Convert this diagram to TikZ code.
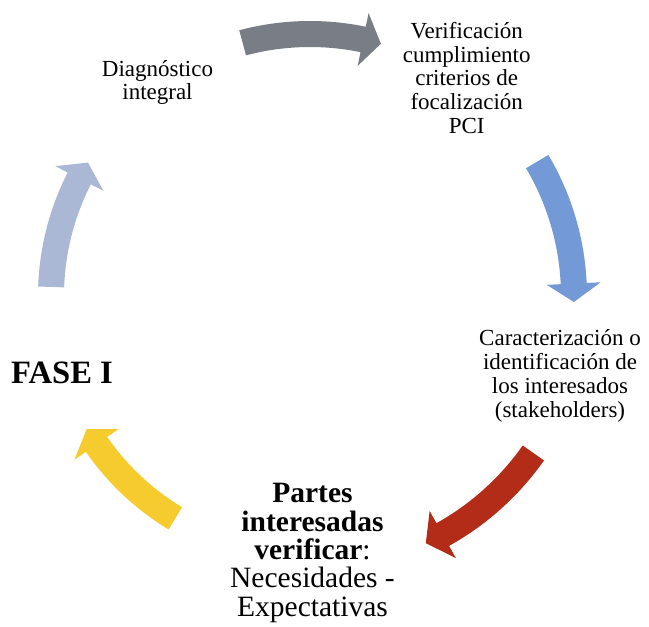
\documentclass[tikz,border=0pt]{standalone}
\usepackage{fontspec}
\setmainfont{Liberation Serif}
\usepackage{tikz}

\definecolor{arrgray}{RGB}{120,125,134}
\definecolor{arrblue}{RGB}{115,153,214}
\definecolor{arrred}{RGB}{178,44,24}
\definecolor{arryellow}{RGB}{245,203,46}
\definecolor{arrpale}{RGB}{171,184,213}

% #1 colour, #2 tail angle, #3 tip angle, #4 radius
\newcommand{\cyclearrow}[4]{%
  \fill[#1] ({#2}:{#4+13}) arc[start angle={#2}, end angle={#3+4}, radius={#4+13}]
    -- ({#3+4}:{#4+27}) -- ({#3}:{#4}) -- ({#3+4}:{#4-27})
    -- ({#3+4}:{#4-13}) arc[start angle={#3+4}, end angle={#2}, radius={#4-13}] -- cycle;}

\begin{document}
\begin{tikzpicture}[x=1pt, y=1pt,
    smalltxt/.style={align=center, font=\fontsize{23}{23.7}\selectfont, inner sep=0pt},
    bigtxt/.style={align=center, font=\fontsize{29.5}{28.3}\selectfont, inner sep=0pt}]
      \useasboundingbox (0,0) rectangle (649,627);
      % cycle arrows round the centre
      \begin{scope}[shift={(310,331)}]
      \cyclearrow{arrgray}{104.9}{74.3}{262}
      \cyclearrow{arrblue}{30.6}{-1.3}{264}
      \cyclearrow{arrred}{-35.1}{-64.9}{273}
      \cyclearrow{arryellow}{-121.2}{-149.2}{260}
      \cyclearrow{arrpale}{178}{149}{259}
      \end{scope}
      % texts
      \node[smalltxt] (diag) at (157.5,544.5) {Diagnóstico\\integral};
      \node[smalltxt] (verif) at (466.7,549) {Verificación\\cumplimiento\\criterios de\\focalización\\PCI};
      \node[smalltxt] (carac) at (560,251) {Caracterización o\\identificación de\\los interesados\\(stakeholders)};
      \node[bigtxt] (partes) at (312.5,74) {\textbf{Partes}\\\textbf{interesadas}\\\textbf{verificar}:\\Necesidades -\\Expectativas};
      \node[font=\fontsize{32.6}{34}\selectfont\bfseries, inner sep=0pt] (fase) at (62,254.5) {FASE I};
\end{tikzpicture}
\end{document}
